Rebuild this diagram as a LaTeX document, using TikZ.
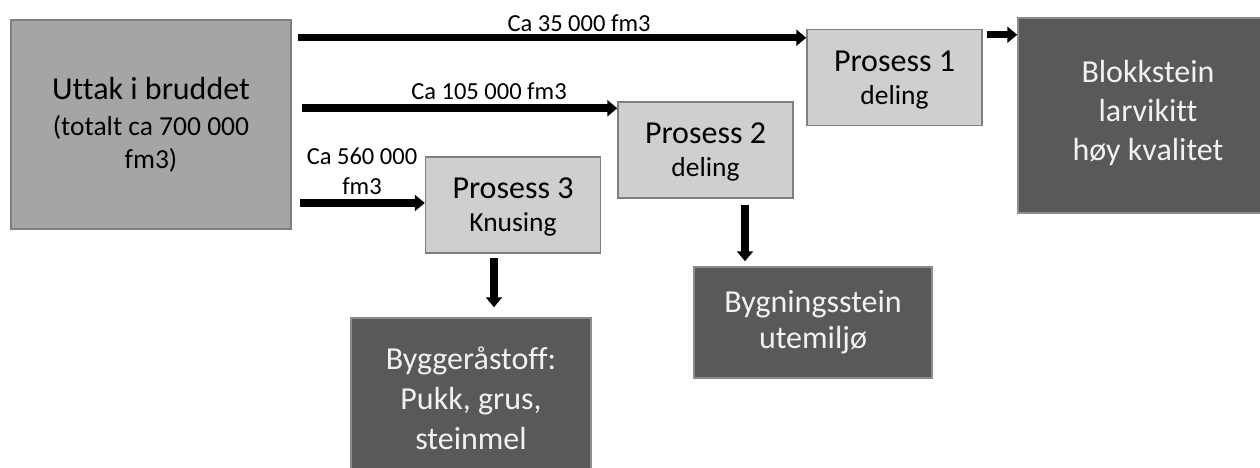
\documentclass[tikz,border=0pt]{standalone}
\usepackage{fontspec}
\setmainfont{Carlito}[Ligatures={NoCommon}]
\usepackage{tikz}
\usetikzlibrary{positioning,arrows.meta,calc}
\definecolor{uttakgra}{HTML}{A5A5A5}
\definecolor{prosessgra}{HTML}{D0CECE}
\definecolor{produktgra}{HTML}{595959}
\definecolor{kantmork}{HTML}{7F7F7F}
\definecolor{kantlys}{HTML}{8C8C8C}
\definecolor{lystekst}{HTML}{F2F2F2}
\newcommand{\liten}{\fontsize{27.5}{33}\selectfont}

\begin{document}
\begin{tikzpicture}[x=1pt, y=-1pt,
    font=\fontsize{32}{39}\selectfont,
    kilde/.style={draw=kantmork, fill=uttakgra, line width=1.5pt, align=center,
                  minimum width=280pt, minimum height=209pt, inner sep=0pt},
    prosess/.style={draw=kantmork, fill=prosessgra, line width=1.5pt, align=center,
                    minimum width=175pt, minimum height=96pt, inner sep=0pt, text depth=0pt},
    produkt/.style={draw=kantlys, fill=produktgra, line width=1.5pt, align=center,
                    text=lystekst, inner sep=0pt},
    mengde/.style={font=\fontsize{24.5}{30}\selectfont, inner sep=0pt, align=center},
    pil/.style={-{Triangle[length=10pt, width=16pt]}, line width=7.5pt, black}]
  \useasboundingbox (0,0) rectangle (1260,468);
  \clip (0,0) rectangle (1260,468);
  % kilde og prosesser
  \node[kilde] (uttak) at (151,124.5)
    {Uttak i bruddet\\[-3pt]{\liten (totalt ca 700 000}\\[-6pt]{\liten fm3)}};
  \node[prosess] (p1) at (894.5,77.5) {Prosess 1\\[-6pt]{\liten deling}};
  \node[prosess] (p2) at (705.5,150) {Prosess 2\\[-6pt]{\liten deling}};
  \node[prosess] (p3) at (513,205) {Prosess 3\\[-6pt]{\liten Knusing}};
  % produkter
  \node[produkt, minimum width=260pt, minimum height=195pt, text depth=10pt] (blokk) at (1148,115.5)
    {Blokkstein\\larvikitt\\høy kvalitet};
  \node[produkt, minimum width=238pt, minimum height=111pt] (bygn) at (813,322.5)
    {Bygningsstein\\[-3pt]utemiljø};
  \node[produkt, minimum width=240pt, minimum height=160pt] (bygg) at (471,398)
    {Byggeråstoff:\\[1pt]Pukk, grus,\\[1pt]steinmel};
  % mengder
  \node[mengde, anchor=base] (m1) at (579,31.7) {Ca 35 000 fm3};
  \node[mengde, anchor=base] (m2) at (489,100) {Ca 105 000 fm3};
  \node[mengde] (m3) at (362,171.5) {Ca 560 000\\fm3};
  % piler
  \coordinate (a1) at ([yshift=-9pt]p1.north west);
  \coordinate (a2) at ([yshift=-7pt]p2.north west);
  \coordinate (a3) at ([yshift=2pt]p3.west);
  \coordinate (a4) at ([yshift=-6pt]p1.north east);
  \coordinate (v2) at ([xshift=39.5pt]p2.south);
  \coordinate (v3) at ([xshift=-19pt]p3.south);
  \draw[pil, shorten <=6pt] (uttak.east |- a1) -- (a1);
  \draw[pil, shorten <=10pt] (uttak.east |- a2) -- (a2);
  \draw[pil, shorten <=8pt] (uttak.east |- a3) -- (a3);
  \draw[pil, shorten <=4pt] (a4) -- (a4 -| blokk.west);
  \draw[pil, shorten <=6pt, shorten >=5pt] (v2) -- (v2 |- bygn.north);
  \draw[pil, shorten <=4pt, shorten >=10pt] (v3) -- (v3 |- bygg.north);
\end{tikzpicture}
\end{document}
